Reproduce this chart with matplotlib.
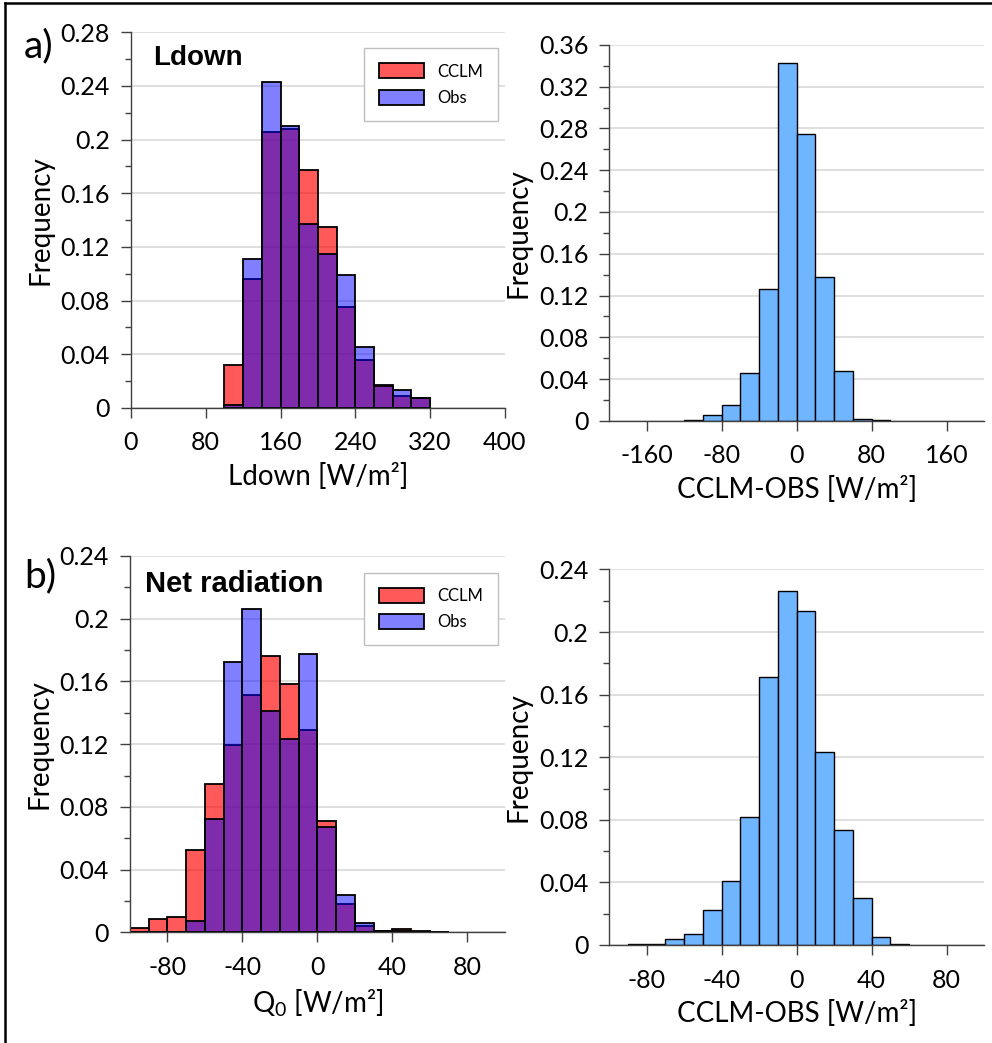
import numpy as np
import matplotlib
matplotlib.use('Agg')
import matplotlib.pyplot as plt
from matplotlib.ticker import MultipleLocator
from matplotlib.lines import Line2D

plt.rcParams['font.family'] = ['Lato', 'DejaVu Sans']
plt.rcParams['mathtext.fontset'] = 'custom'
plt.rcParams['mathtext.rm'] = 'Lato'
plt.rcParams['axes.unicode_minus'] = False

# ---- data (bin left edges and frequencies) ----
ldown_bins = [100, 120, 140, 160, 180, 200, 220, 240, 260, 280, 300]
ldown_cclm = [0.032, 0.096, 0.206, 0.208, 0.177, 0.135, 0.075, 0.036, 0.017, 0.009, 0.0075]
ldown_obs = [0.002, 0.111, 0.243, 0.210, 0.137, 0.115, 0.099, 0.045, 0.016, 0.013, 0.007]

ldown_diff_bins = [-120, -100, -80, -60, -40, -20, 0, 20, 40, 60, 80]
ldown_diff = [0.0006, 0.0054, 0.0153, 0.0456, 0.126, 0.343, 0.275, 0.138, 0.048, 0.002, 0.001]

q0_bins = [-100, -90, -80, -70, -60, -50, -40, -30, -20, -10, 0, 10, 20, 30, 40, 50, 60]
q0_cclm = [0.0028, 0.0083, 0.0096, 0.0525, 0.0949, 0.1192, 0.1512, 0.1765, 0.1585,
           0.1291, 0.0709, 0.0183, 0.0038, 0.001, 0.0019, 0.0008, 0.0005]
q0_obs = [0.0, 0.0, 0.0, 0.0076, 0.0722, 0.1723, 0.206, 0.1413, 0.1232,
          0.1774, 0.0671, 0.024, 0.0059, 0.0008, 0.0012, 0.0005, 0.0003]

q0_diff_bins = [-90, -80, -70, -60, -50, -40, -30, -20, -10, 0, 10, 20, 30, 40, 50]
q0_diff = [0.0003, 0.0003, 0.0036, 0.0068, 0.0224, 0.0409, 0.082, 0.1712, 0.2264,
           0.2134, 0.1235, 0.0735, 0.0298, 0.0053, 0.0009]

red = (1.0, 0.0, 0.0, 0.65)
blue = (0.0, 0.0, 1.0, 0.5)
diff_col = '#70B5FF'
spine_col = '#404040'

fig = plt.figure(figsize=(9.92, 10.43), dpi=100)


def style(ax, xlim, ylim, xticks, ystep):
    ax.set_xlim(*xlim)
    ax.set_ylim(*ylim)
    ax.set_xticks(xticks)
    ax.yaxis.set_major_locator(MultipleLocator(ystep))
    ax.yaxis.set_minor_locator(MultipleLocator(ystep / 2))
    ax.yaxis.set_major_formatter(plt.FuncFormatter(lambda v, p: '%g' % round(v, 4)))
    for s in ['top', 'right']:
        ax.spines[s].set_visible(False)
    for s in ['left', 'bottom']:
        ax.spines[s].set_color(spine_col)
        ax.spines[s].set_linewidth(1.0)
    ax.tick_params(axis='both', which='major', length=7, width=1, color=spine_col,
                   labelsize=18)
    ax.tick_params(axis='y', which='major', pad=8)
    ax.tick_params(axis='x', which='major', pad=10)
    ax.tick_params(axis='y', which='minor', length=4, width=1, color=spine_col)
    ax.tick_params(axis='x', which='minor', bottom=False)
    ax.grid(axis='y', which='major', color='#D9D9D9', linewidth=1.2)
    ax.set_axisbelow(True)
    ax.set_ylabel('Frequency', fontsize=20, labelpad=5)


def legend(ax, anchor):
    ax.legend(loc='upper right', bbox_to_anchor=anchor, borderaxespad=0,
              fontsize=12, frameon=True, fancybox=False, edgecolor='#BFBFBF',
              framealpha=1, handlelength=2.7, handleheight=1.0,
              borderpad=0.9, labelspacing=0.6, handletextpad=0.8)


# a) Ldown
ax1 = fig.add_axes([0.132, 0.609, 0.377, 0.360])
ax1.bar(ldown_bins, ldown_cclm, width=20, align='edge', color=red,
        edgecolor='black', linewidth=1.3, label='CCLM')
ax1.bar(ldown_bins, ldown_obs, width=20, align='edge', color=blue,
        edgecolor='black', linewidth=1.3, label='Obs')
style(ax1, (0, 400), (0, 0.28), [0, 80, 160, 240, 320, 400], 0.04)
ax1.set_xlabel('Ldown [W/m²]', fontsize=20, labelpad=6)
ax1.text(0.059, 0.914, 'Ldown', transform=ax1.transAxes, fontsize=20,
         fontweight='bold', family='Liberation Sans', va='baseline')
legend(ax1, (0.981, 0.957))

ax2 = fig.add_axes([0.614, 0.5965, 0.378, 0.3605])
ax2.bar(ldown_diff_bins, ldown_diff, width=20, align='edge', color=diff_col,
        edgecolor='black', linewidth=1.0)
style(ax2, (-200, 200), (0, 0.36), [-160, -80, 0, 80, 160], 0.04)
ax2.set_xlabel('CCLM-OBS [W/m²]', fontsize=20, labelpad=6)

# b) Net radiation
ax3 = fig.add_axes([0.131, 0.106, 0.378, 0.361])
ax3.bar(q0_bins, q0_cclm, width=10, align='edge', color=red,
        edgecolor='black', linewidth=1.3, label='CCLM')
ax3.bar(q0_bins, q0_obs, width=10, align='edge', color=blue,
        edgecolor='black', linewidth=1.3, label='Obs')
style(ax3, (-100, 100), (0, 0.24), [-80, -40, 0, 40, 80], 0.04)
ax3.set_xlabel(r'Q$_{0}$ [W/m²]', fontsize=20, labelpad=6)
ax3.text(0.04, 0.904, 'Net radiation', transform=ax3.transAxes, fontsize=21,
         fontweight='bold', family='Liberation Sans', va='baseline')
legend(ax3, (0.981, 0.955))

ax4 = fig.add_axes([0.614, 0.094, 0.378, 0.360])
ax4.bar(q0_diff_bins, q0_diff, width=10, align='edge', color=diff_col,
        edgecolor='black', linewidth=1.0)
style(ax4, (-100, 100), (0, 0.24), [-80, -40, 0, 40, 80], 0.04)
ax4.set_xlabel('CCLM-OBS [W/m²]', fontsize=20, labelpad=6)

# panel letters
fig.text(0.024, 0.945, 'a)', fontsize=28, va='baseline')
fig.text(0.024, 0.437, 'b)', fontsize=28, va='baseline')

# frame around figure (top and left)
fig.add_artist(Line2D([0.005, 0.005], [0, 0.997], transform=fig.transFigure,
                      color='black', linewidth=1.8))
fig.add_artist(Line2D([0.005, 1.0], [0.997, 0.997], transform=fig.transFigure,
                      color='black', linewidth=1.8))

fig.savefig('out.png', dpi=100)
